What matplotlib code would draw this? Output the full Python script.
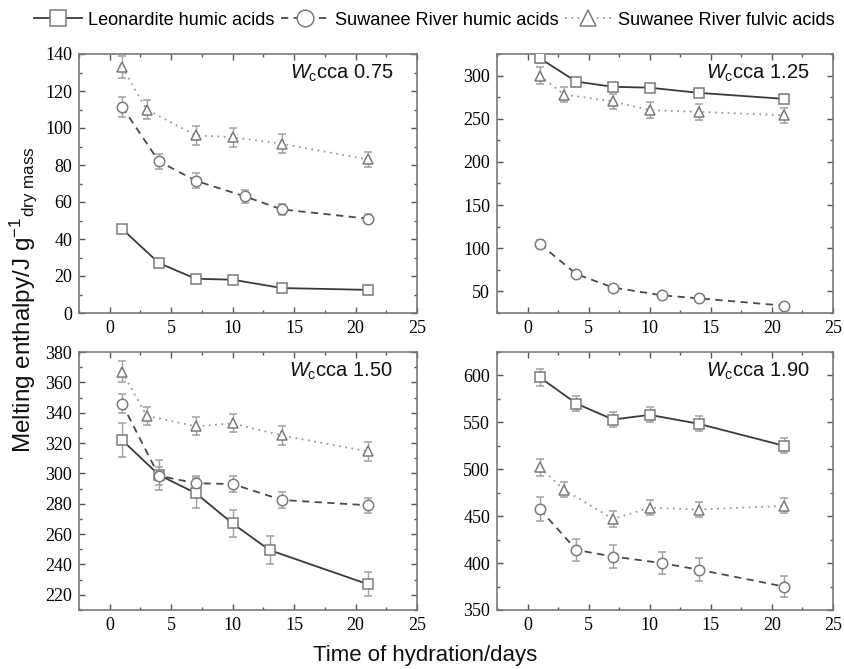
import matplotlib

matplotlib.use("Agg")

import matplotlib.pyplot as plt
from matplotlib.lines import Line2D
from matplotlib.ticker import MultipleLocator

plt.rcParams.update(
    {
        "font.family": "Liberation Sans",
        "mathtext.fontset": "custom",
        "mathtext.rm": "Liberation Sans",
        "mathtext.it": "Liberation Sans:italic",
        "axes.edgecolor": "#7a7a7a",
        "axes.linewidth": 1.2,
    }
)

# Wc cca levels, one panel each
PANEL_LABELS = ["0.75", "1.25", "1.50", "1.90"]
SERIES_NAMES = [
    "Leonardite humic acids",
    "Suwanee River humic acids",
    "Suwanee River fulvic acids",
]

# panel 0.75
LHA_X_075 = [1, 4, 7, 10, 14, 21]
LHA_Y_075 = [45.5, 27, 18.5, 18, 13.5, 12.5]
LHA_E_075 = [1.5, 1.5, 1.5, 1.5, 1.5, 1.5]
SRHA_X_075 = [1, 4, 7, 11, 14, 21]
SRHA_Y_075 = [111.5, 82, 71.5, 63, 56, 51]
SRHA_E_075 = [5.5, 4, 4, 3.5, 3, 2.5]
SRFA_X_075 = [1, 3, 7, 10, 14, 21]
SRFA_Y_075 = [133, 110, 96, 95, 91.5, 83]
SRFA_E_075 = [6, 5, 5, 5, 5, 4]

# panel 1.25
LHA_X_125 = [1, 4, 7, 10, 14, 21]
LHA_Y_125 = [320, 293, 287, 286, 280, 273]
LHA_E_125 = [5, 4, 4, 4, 3, 4]
SRHA_X_125 = [1, 4, 7, 11, 14, 21]
SRHA_Y_125 = [105, 70, 54.5, 45.5, 42, 33.5]
SRHA_E_125 = [4, 3, 2, 2, 2, 2]
SRFA_X_125 = [1, 3, 7, 10, 14, 21]
SRFA_Y_125 = [300, 278, 270, 260, 258, 254]
SRFA_E_125 = [10, 9, 9, 9, 9, 9]

# panel 1.50
LHA_X_150 = [1, 4, 7, 10, 13, 21]
LHA_Y_150 = [322, 299, 287, 267, 249.5, 227]
LHA_E_150 = [11, 10, 10, 9, 9, 8]
SRHA_X_150 = [1, 4, 7, 10, 14, 21]
SRHA_Y_150 = [346, 298.5, 293.5, 293, 282.5, 279]
SRHA_E_150 = [6, 6, 5, 5, 5, 5]
SRFA_X_150 = [1, 3, 7, 10, 14, 21]
SRFA_Y_150 = [367, 338, 331, 333, 325, 314.5]
SRFA_E_150 = [7, 6, 6, 6, 6, 6]

# panel 1.90
LHA_X_190 = [1, 4, 7, 10, 14, 21]
LHA_Y_190 = [598, 570, 553, 558, 548.5, 525]
LHA_E_190 = [9, 8, 8, 8, 8, 8]
SRHA_X_190 = [1, 4, 7, 11, 14, 21]
SRHA_Y_190 = [457.5, 414, 407, 400, 393, 375]
SRHA_E_190 = [13, 12, 12, 12, 12, 11]
SRFA_X_190 = [1, 3, 7, 10, 14, 21]
SRFA_Y_190 = [502, 478, 447, 459, 457, 461]
SRFA_E_190 = [9, 8, 8, 8, 8, 8]

X_TICKS = [0, 5, 10, 15, 20, 25]
Y_TICKS = [
    [0, 20, 40, 60, 80, 100, 120, 140],
    [50, 100, 150, 200, 250, 300],
    [220, 240, 260, 280, 300, 320, 340, 360, 380],
    [350, 400, 450, 500, 550, 600],
]

PANEL_DATA = [
    [
        (LHA_X_075, LHA_Y_075, LHA_E_075),
        (SRHA_X_075, SRHA_Y_075, SRHA_E_075),
        (SRFA_X_075, SRFA_Y_075, SRFA_E_075),
    ],
    [
        (LHA_X_125, LHA_Y_125, LHA_E_125),
        (SRHA_X_125, SRHA_Y_125, SRHA_E_125),
        (SRFA_X_125, SRFA_Y_125, SRFA_E_125),
    ],
    [
        (LHA_X_150, LHA_Y_150, LHA_E_150),
        (SRHA_X_150, SRHA_Y_150, SRHA_E_150),
        (SRFA_X_150, SRFA_Y_150, SRFA_E_150),
    ],
    [
        (LHA_X_190, LHA_Y_190, LHA_E_190),
        (SRHA_X_190, SRHA_Y_190, SRHA_E_190),
        (SRFA_X_190, SRFA_Y_190, SRFA_E_190),
    ],
]

Y_LIMITS = [(0, 140), (25, 325), (210, 380), (350, 625)]
Y_MINOR = [10, 25, 10, 25]

STYLES = [
    {"marker": "s", "linestyle": "-", "color": "#3a3a3a"},
    {"marker": "o", "linestyle": (0, (4, 3)), "color": "#4a4a4a"},
    {"marker": "^", "linestyle": (0, (1, 2.5)), "color": "#9a9a9a"},
]
MARKER_EDGE = "#7a7a7a"

W, H = 844, 669
# panel boxes in pixels: left, top, right, bottom
BOXES = [
    (79, 54, 417, 313),
    (497, 54, 833, 313),
    (79, 352, 417, 610),
    (497, 352, 833, 610),
]

fig = plt.figure(figsize=(W / 100, H / 100), dpi=100)

for i, (left, top, right, bottom) in enumerate(BOXES):
    ax = fig.add_axes(
        [left / W, (H - bottom) / H, (right - left) / W, (bottom - top) / H]
    )
    for (xs, ys, es), style in zip(PANEL_DATA[i], STYLES):
        ax.errorbar(
            xs,
            ys,
            yerr=es,
            marker=style["marker"],
            linestyle=style["linestyle"],
            color=style["color"],
            linewidth=1.3,
            markersize=7.5,
            markerfacecolor="white",
            markeredgecolor=MARKER_EDGE,
            markeredgewidth=1.1,
            ecolor="#a0a0a0",
            elinewidth=1.0,
            capsize=3,
            capthick=1.0,
            zorder=3,
        )
    ax.set_xlim(-2.5, 25)
    ax.set_ylim(*Y_LIMITS[i])
    ax.set_xticks(X_TICKS, labels=[str(t) for t in X_TICKS],
                  fontfamily="Liberation Serif", fontsize=13)
    ax.set_yticks(Y_TICKS[i], labels=[str(t) for t in Y_TICKS[i]],
                  fontfamily="Liberation Serif", fontsize=13)
    ax.xaxis.set_minor_locator(MultipleLocator(2.5))
    ax.yaxis.set_minor_locator(MultipleLocator(Y_MINOR[i]))
    ax.tick_params(which="both", direction="in", top=True, right=True,
                   color="#555555", width=1.0)
    ax.tick_params(which="major", length=4, pad=5)
    ax.tick_params(which="minor", length=2.5)
    ax.text(
        0.93,
        0.905,
        r"$\mathit{W}_{\mathrm{c}}$cca " + PANEL_LABELS[i],
        transform=ax.transAxes,
        ha="right",
        va="baseline",
        fontsize=14.5,
        color="#111111",
    )

handles = [
    Line2D(
        [],
        [],
        marker=style["marker"],
        linestyle=style["linestyle"],
        color=style["color"],
        linewidth=1.3,
        markersize=12,
        markerfacecolor="white",
        markeredgecolor=MARKER_EDGE,
        markeredgewidth=1.1,
        label=name,
    )
    for style, name in zip(STYLES, SERIES_NAMES)
]
fig.legend(
    handles=handles,
    loc="center",
    bbox_to_anchor=(0.515, 0.97),
    ncol=3,
    frameon=False,
    fontsize=13.1,
    handlelength=2.6,
    handletextpad=0.35,
    columnspacing=0.35,
    borderpad=0,
)

fig.text(
    0.027,
    (H - 300) / H,
    r"Melting enthalpy/J g$^{-1}$$_{\mathrm{dry\ mass}}$",
    rotation=90,
    ha="center",
    va="center",
    fontsize=17.5,
    color="#111111",
)
fig.text(
    425 / W,
    (H - 655) / H,
    "Time of hydration/days",
    ha="center",
    va="center",
    fontsize=16,
    color="#111111",
)

fig.savefig("out.png", dpi=100, facecolor="white")
